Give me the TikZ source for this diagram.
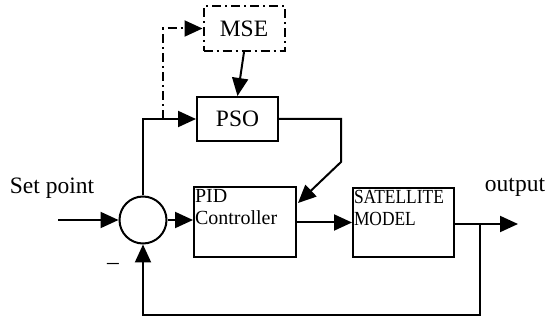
\documentclass[tikz,border=0pt]{standalone}
\usepackage{fontspec}
\setmainfont{Liberation Serif}
\usetikzlibrary{arrows.meta}
\begin{document}
\begin{tikzpicture}[x=1pt,y=-1pt,
  every path/.style={line width=2pt},
  blk/.style={draw,line width=2pt,rectangle,inner sep=0pt},
  dd/.style={dash pattern=on 9pt off 4pt on 2pt off 4pt},
  arr/.style={-{Triangle[length=18pt,width=16pt]}},
  lbl/.style={font=\fontsize{23.5}{26}\selectfont,inner sep=0pt},
  intxt/.style={font=\fontsize{20}{22}\selectfont,inner sep=0pt,align=left,anchor=north west}]
\useasboundingbox (0,0) rectangle (547,320);
\node[blk,dd,minimum width=81pt,minimum height=45pt,font=\fontsize{23.5}{26}\selectfont] (mse) at (244,28.5) {MSE};
\node[blk,minimum width=81pt,minimum height=44pt,font=\fontsize{23.5}{26}\selectfont] (pso) at (237.5,119) {PSO};
\node[blk,minimum width=102pt,minimum height=70pt] (pid) at (245,222) {};
\node[intxt] (pidt) at ([xshift=1pt,yshift=-2pt]pid.north west) {PID\\Controller};
\node[blk,minimum width=101pt,minimum height=69pt] (sat) at (403.5,222.5) {};
\node[intxt] (satt) at ([xshift=1pt,yshift=-2pt]sat.north west) {\scalebox{0.87}[1]{SATELLITE}\\\scalebox{0.87}[1]{MODEL}};
\node[draw,circle,line width=2pt,minimum size=47pt,inner sep=0pt] (sum) at (143,220) {};
\coordinate (sp) at (58,220);
\coordinate (br) at (163,119);
\coordinate (k1) at (341,162);
\coordinate (k2) at (298,203);
\coordinate (fb) at (480,224);
\coordinate (out) at (518,224);
\node[lbl] (splbl) at (52,188) {Set point};
\node[lbl] (outlbl) at (515,187) {output};
\node[lbl] (minus) at (113,266) {–};
\draw[arr] (sp) -- (sum.west);
\draw[arr] (sum.east) -- (pid.west |- sum.east);
\draw[arr] (pid.east |- sat.west) -- (sat.west);
\draw[arr] (sat.east |- fb) -- (out);
\draw[arr] (fb) -- ++(0,91) -| (sum.south);
\draw[arr] (sum.north) |- (pso.west);
\draw[arr,dd] (br) |- (mse.west);
\draw[arr] (mse.south) -- (pso.north);
\draw[arr] (pso.east) -| (k1) -- (k2);
\end{tikzpicture}
\end{document}
